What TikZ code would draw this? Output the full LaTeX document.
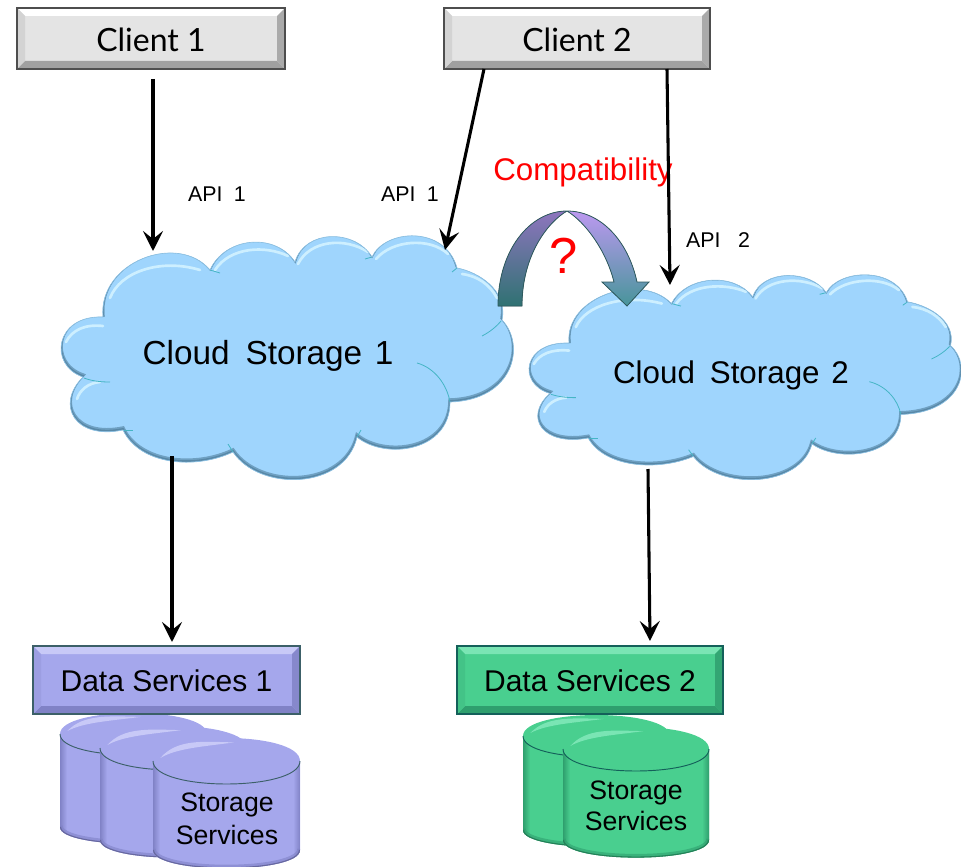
\documentclass[tikz,border=0pt]{standalone}
\usepackage{fontspec}
\setmainfont{Liberation Sans}
\newfontfamily\clientfont{Lato}
\usetikzlibrary{arrows.meta}
\definecolor{cloudbase}{HTML}{9FD5FD}
\definecolor{cloudedge}{HTML}{8CC0E2}
\definecolor{cloudshade}{HTML}{3E6C88}
\definecolor{cloudhi}{HTML}{CDEFFF}
\definecolor{cloudteal}{HTML}{45B5C5}
\definecolor{purplebase}{HTML}{A5A7EC}
\definecolor{purplelight}{HTML}{C8C9F7}
\definecolor{purpledark}{HTML}{8082C6}
\definecolor{purpleedge}{HTML}{3C6068}
\definecolor{greenbase}{HTML}{49CF8F}
\definecolor{greenlight}{HTML}{7AE5B4}
\definecolor{greendark}{HTML}{2F9F6E}
\definecolor{greenedge}{HTML}{14605A}
\definecolor{greybase}{HTML}{E4E4E4}
\definecolor{greylight}{HTML}{FFFFFF}
\definecolor{greydark}{HTML}{A0A0A0}
\definecolor{greyedge}{HTML}{4E4E4E}
\definecolor{bendtopl}{HTML}{8E75BE}
\definecolor{bendbotl}{HTML}{2F7272}
\definecolor{bendtopr}{HTML}{BC98F0}
\definecolor{bendbotr}{HTML}{47959A}
\definecolor{bendedge}{HTML}{2E5A5E}
\tikzset{
  x=0.75pt,y=-0.75pt,
  flow/.style={line width=2.3pt,-{Stealth[length=15pt,width=15pt,inset=6pt]}},
  bevellabel/.style={inner sep=0pt,line width=1pt,text=black},
  textlabel/.style={inner sep=0pt,text=black},
  apilabel/.style={textlabel,font=\fontsize{16}{18}\selectfont},
  storagelabel/.style={textlabel,align=center,font=\fontsize{20}{25}\selectfont},
  hilite/.style={draw=cloudhi,line width=2pt,line cap=round},
  tealline/.style={draw=cloudteal,line width=0.6pt}
}
% cloud outline
\def\cloudP{(103,317) .. controls (98,262) and (178,232) .. (210,270)
 .. controls (225,237) and (275,232) .. (295,262)
 .. controls (305,229) and (355,229) .. (372,257)
 .. controls (385,229) and (445,225) .. (457,268)
 .. controls (478,272) and (508,290) .. (502,320)
 .. controls (526,345) and (514,400) .. (450,402)
 .. controls (450,452) and (385,460) .. (357,437)
 .. controls (345,490) and (260,492) .. (233,452)
 .. controls (195,470) and (140,465) .. (123,430)
 .. controls (75,440) and (55,405) .. (83,377)
 .. controls (48,365) and (55,315) .. (103,317) -- cycle}
\newcommand{\drawcloud}{%
  \fill[cloudbase] \cloudP;
  \begin{scope}
    \clip \cloudP;
    \begin{scope}[shift={(0,-2)}]
      \draw[cloudshade,line width=2.6pt,opacity=.5] \cloudP;
    \end{scope}
    \begin{scope}[shift={(0,-1)}]
      \draw[cloudshade,line width=1.4pt,opacity=.45] \cloudP;
    \end{scope}
    \draw[hilite] (110,298) .. controls (120,272) and (160,258) .. (200,270);
    \draw[hilite] (215,270) .. controls (230,247) and (265,245) .. (288,256);
    \draw[hilite] (298,264) .. controls (310,240) and (345,237) .. (368,252);
    \draw[hilite] (376,259) .. controls (392,240) and (430,237) .. (448,254);
    \draw[hilite] (462,274) .. controls (478,276) and (490,285) .. (497,298);
    \draw[hilite] (66,342) .. controls (72,330) and (85,324) .. (103,326);
    \draw[hilite] (77,399) .. controls (80,390) and (88,383) .. (100,382);
    \draw[tealline] (417,363) .. controls (435,368) and (447,385) .. (450,402);
    \draw[tealline] (482,336) .. controls (490,332) and (497,326) .. (501,321);
    \draw[tealline] (84,378) .. controls (92,381) and (100,382) .. (110,382);
    \draw[tealline] (210,270) -- (220,273);
    \draw[tealline] (228,444) -- (233,452);
    \draw[tealline] (123,430) -- (133,430);
    \draw[tealline] (357,437) -- (361,430);
    \draw[tealline] (372,257) -- (365,259);
    \draw[tealline] (457,268) -- (452,272);
  \end{scope}
  \draw[cloudedge,line width=0.5pt] \cloudP;
}
% bevelled box: name,x0,y0,x1,y1,colour prefix,text,font
\newcommand{\bevelbox}[8]{%
  \fill[#6base] (#2,#3) rectangle (#4,#5);
  \fill[#6light] (#2,#3) -- (#4,#3) -- (#4-8,#3+8) -- (#2+8,#3+8) -- cycle;
  \fill[#6dark] (#2,#5) -- (#4,#5) -- (#4-8,#5-8) -- (#2+8,#5-8) -- cycle;
  \fill[#6base!75!#6dark] (#2,#3) -- (#2+8,#3+8) -- (#2+8,#5-8) -- (#2,#5) -- cycle;
  \fill[#6dark!85!#6base] (#4,#3) -- (#4-8,#3+8) -- (#4-8,#5-8) -- (#4,#5) -- cycle;
  \node[bevellabel,draw=#6edge,font=#8,minimum width=(#4-#2)*0.75pt,minimum height=(#5-#3)*0.75pt]
    (#1) at ({(#2+#4)/2},{(#3+#5)/2}) {#7};
}
% cylinder: left,right,centre y,radius y,side bottom y,colour prefix
\newcommand{\cylinder}[6]{%
  \pgfmathsetmacro{\ctl}{#3+1.333*#4}
  \pgfmathsetmacro{\ctu}{#3-1.333*#4}
  \pgfmathsetmacro{\cbl}{#5+1.333*#4*0.8}
  \pgfmathsetmacro{\hia}{#1+(#2-#1)*0.05}
  \pgfmathsetmacro{\hib}{#1+(#2-#1)*0.55}
  \pgfmathsetmacro{\hiy}{#3-#4*0.72}
  \pgfmathsetmacro{\hic}{#1+(#2-#1)*0.16}
  \pgfmathsetmacro{\hid}{#1+(#2-#1)*0.33}
  \fill[#6base]
    (#1,#3) -- (#1,#5) .. controls (#1,\cbl) and (#2,\cbl) .. (#2,#5) -- (#2,#3) -- cycle;
  \begin{scope}
    \clip (#1,#3) -- (#1,#5) .. controls (#1,\cbl) and (#2,\cbl) .. (#2,#5) -- (#2,#3) -- cycle;
    \shade[left color=#6dark,right color=#6base] (#1,#3) rectangle (#1+7,#5+25);
    \shade[left color=#6base,right color=#6dark] (#2-7,#3) rectangle (#2,#5+25);
    \draw[#6dark,line width=4pt,opacity=.6] (#1,#5-1) .. controls (#1,\cbl-1) and (#2,\cbl-1) .. (#2,#5-1);
    \draw[#6dark!80!black,line width=1.6pt] (#1,#5) .. controls (#1,\cbl) and (#2,\cbl) .. (#2,#5);
  \end{scope}
  \fill[#6base] (#1,#3) .. controls (#1,\ctu) and (#2,\ctu) .. (#2,#3)
     .. controls (#2,\ctl) and (#1,\ctl) .. (#1,#3) -- cycle;
  \fill[#6light] (\hia,#3-3) .. controls (\hic,#3-#4*0.95) and (\hid,#3-#4*0.85) .. (\hib,\hiy-2)
     .. controls (\hid,#3-#4*0.62) and (\hic,#3-#4*0.55) .. (\hia,#3-3) -- cycle;
  \draw[#6edge,line width=0.7pt] (#1,#3) .. controls (#1,\ctl) and (#2,\ctl) .. (#2,#3);
}
\begin{document}
\begin{tikzpicture}
\useasboundingbox (0,0) rectangle (961,867);
% clouds
\drawcloud
\begin{scope}[shift={(528,275)},xscale=.956,yscale=.84,shift={(-60,-236)}]
  \drawcloud
\end{scope}
\node[textlabel,font=\fontsize{25}{28}\selectfont] (cloudone) at (268,356) {Cloud\hspace{.2em} Storage\hspace{.1em} 1};
\node[textlabel,font=\fontsize{23.5}{28}\selectfont] (cloudtwo) at (731,375) {Cloud\hspace{.2em} Storage\hspace{.1em} 2};
% cylinders
\cylinder{60}{207}{734}{21}{827}{purple}
\cylinder{100}{247}{748}{22}{840}{purple}
\cylinder{153}{300}{761}{23}{850}{purple}
\cylinder{523}{670}{736}{21}{830}{green}
\cylinder{563}{709}{749}{22}{840}{green}
% boxes
\bevelbox{clientone}{17}{8}{285}{69}{grey}{\raisebox{-10pt}[0pt][0pt]{\clientfont Client 1}}{\fontsize{24}{28}\selectfont}
\bevelbox{clienttwo}{444}{8}{710}{69}{grey}{\raisebox{-10pt}[0pt][0pt]{\clientfont Client 2}}{\fontsize{24}{28}\selectfont}
\bevelbox{dataone}{33}{646}{300}{714}{purple}{\raisebox{-8.8pt}[0pt][0pt]{Data Services 1}}{\fontsize{22.5}{26}\selectfont}
\bevelbox{datatwo}{457}{646}{723}{714}{green}{\raisebox{-8.8pt}[0pt][0pt]{Data Services 2}}{\fontsize{22.5}{26}\selectfont}
\node[storagelabel] (storeone) at (227,819) {Storage\\Services};
\node[storagelabel,font=\fontsize{20}{23.5}\selectfont] (storetwo) at (636,806) {Storage\\Services};
% curved arrow
\fill[top color=bendtopl,bottom color=bendbotl] (567,211)
  .. controls (530,211) and (498,250) .. (498,306) -- (522,306)
  .. controls (522,255) and (548,222) .. (567,211) -- cycle;
\fill[top color=bendtopr,bottom color=bendbotr] (567,211)
  .. controls (600,211) and (628,240) .. (637,282) -- (649,282) -- (627,306) -- (602,282) -- (614,282)
  .. controls (606,250) and (585,222) .. (567,211) -- cycle;
\draw[line width=0.6pt,draw=bendedge] (567,211)
  .. controls (530,211) and (498,250) .. (498,306) -- (522,306)
  .. controls (522,255) and (548,222) .. (567,211)
  .. controls (600,211) and (628,240) .. (637,282) -- (649,282) -- (627,306) -- (602,282) -- (614,282)
  .. controls (606,250) and (585,222) .. (567,211);
% labels
\node[apilabel] (apia) at (217,194) {API\hspace{.25em} 1};
\node[apilabel] (apib) at (410,194) {API\hspace{.25em} 1};
\node[apilabel] (apic) at (718,240) {API\hspace{.55em} 2};
\node[textlabel,text=red,font=\fontsize{23.5}{26}\selectfont] (compat) at (583,172) {Compatibility};
\node[textlabel,text=red,font=\fontsize{38}{40}\selectfont] (qmark) at (564,256) {?};
% connector anchors
\coordinate (ca) at (153,79);
\coordinate (cb) at (153,251);
\coordinate (cc) at (484,69);
\coordinate (cd) at (445,250);
\coordinate (ce) at (667,69);
\coordinate (cf) at (670,285);
\coordinate (cg) at (172,456);
\coordinate (ch) at (172,642);
\coordinate (ci) at (648,469);
\coordinate (cj) at (650,641);
\draw[flow] (ca) -- (cb);
\draw[flow] (cc) -- (cd);
\draw[flow] (ce) -- (cf);
\draw[flow] (cg) -- (ch);
\draw[flow] (ci) -- (cj);
\end{tikzpicture}
\end{document}
